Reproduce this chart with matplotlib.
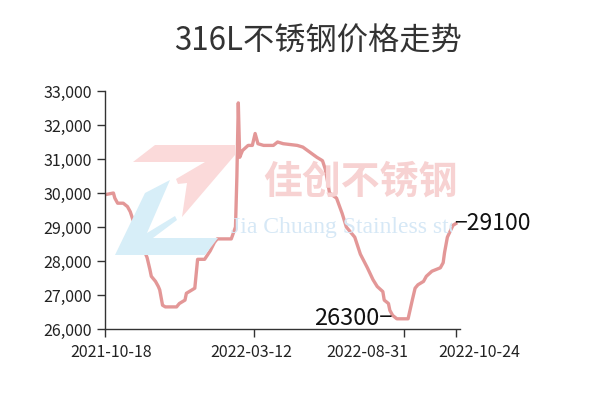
import matplotlib
matplotlib.use("Agg")
import matplotlib.pyplot as plt
import matplotlib.transforms as mtransforms
from matplotlib.patches import Polygon
from matplotlib.ticker import FuncFormatter

plt.rcParams['font.family'] = ['Noto Sans CJK SC', 'DejaVu Sans']

# trading-day index and price (yuan/ton)
days = [0, 6, 7, 9, 13, 16, 18, 20, 23, 25, 27, 30, 32, 33, 36, 38, 39, 41, 43,
        51, 53, 57, 58, 62, 64, 66, 71, 75, 78, 80, 90, 93, 94, 95, 96, 98, 102,
        105, 107, 109, 113, 120, 123, 127, 137, 141, 146, 151, 155, 157, 159,
        160, 165, 169, 172, 178, 180, 182, 187, 191, 194, 198, 199, 202, 203,
        205, 208, 216, 219, 221, 223, 227, 229, 233, 239, 241, 242, 244, 248, 250]
prices = [29950, 30000, 29850, 29700, 29700, 29600, 29450, 29200, 29000, 28700,
          28400, 28100, 27750, 27550, 27400, 27250, 27150, 26700, 26650,
          26650, 26750, 26850, 27050, 27150, 27200, 28050, 28050, 28300, 28550,
          28650, 28650, 29000, 30500, 32650, 31050, 31250, 31400,
          31400, 31750, 31450, 31400, 31400, 31500, 31450, 31400, 31350, 31200,
          31050, 30950, 30700, 30250,
          30000, 29850, 29400, 29000, 28700, 28450, 28200, 27800, 27450, 27250,
          27100, 26850, 26750, 26550,
          26400, 26300, 26300, 26850, 27200, 27300, 27400, 27550, 27700, 27800,
          27950, 28250, 28700, 29050, 29100]

tick_days = [0, 106, 213, 250]
tick_labels = ["2021-10-18", "2022-03-12", "2022-08-31", "2022-10-24"]
yticks = [26000, 27000, 28000, 29000, 30000, 31000, 32000, 33000]

fig = plt.figure(figsize=(6, 4), dpi=100)

# watermark logo (figure pixel coords, y from top)
def px(points):
    return [(x / 600, 1 - y / 400) for x, y in points]

pink = [(133, 162), (155, 145), (235, 145), (235, 155), (182, 217), (187, 183),
        (178, 184), (176, 179), (205, 162)]
blue = [(170, 180), (145, 193), (115, 255), (205, 255), (218, 238), (153, 238),
        (177, 220), (175, 216), (147, 233)]
fig.patches.append(Polygon(px(pink), closed=True, transform=fig.transFigure,
                           facecolor='#fbdada', edgecolor='none', zorder=0))
fig.patches.append(Polygon(px(blue), closed=True, transform=fig.transFigure,
                           facecolor='#d7eef8', edgecolor='none', zorder=0))
fig.text(360 / 600, 1 - 182 / 400, "佳创不锈钢", fontsize=28, color='#f7d2d2',
         fontweight='bold', ha='center', va='center', zorder=0)
wm = fig.text(231 / 600, 1 - 228 / 400, "Jia Chuang Stainless steel", fontsize=17,
              color='#d6e8f6', family='Liberation Serif', ha='left', va='center',
              zorder=0)
wm.set_clip_box(mtransforms.Bbox.from_extents(0, 0, 452, 400))
wm.set_clip_on(True)

ax = fig.add_axes([105 / 600, 1 - 329 / 400, 355 / 600, 238 / 400])
ax.patch.set_alpha(0)

ax.plot(days, prices, color='#e08c8c', lw=2.4, alpha=0.9, solid_joinstyle='round')

ax.set_xlim(0, 253)
ax.set_ylim(26000, 33000)
ax.set_yticks(yticks)
ax.yaxis.set_major_formatter(FuncFormatter(lambda v, p: f"{int(v):,}"))
ax.set_xticks(tick_days)
ax.set_xticklabels(tick_labels)

for s in ['top', 'right']:
    ax.spines[s].set_visible(False)
for s in ['left', 'bottom']:
    ax.spines[s].set_color('#333333')
    ax.spines[s].set_linewidth(1)
ax.tick_params(axis='both', length=6, width=1, color='#333333',
               labelsize=11.5, labelcolor='#222222')
ax.tick_params(axis='x', pad=5)

# nudge crowded date labels apart like the original
shifts = [6, -2, -37, 23]
for lbl, dx in zip(ax.get_xticklabels(), shifts):
    lbl.set_transform(lbl.get_transform() +
                      mtransforms.ScaledTranslation(dx / 100, 0, fig.dpi_scale_trans))

# min / last labels
imin = prices.index(min(prices))
ax.annotate(f"{prices[imin]}−", (days[imin], prices[imin]), xytext=(-3, 0),
            textcoords='offset points', ha='right', va='center', fontsize=17,
            color='#111111')
ax.annotate(f"−{prices[-1]}", (days[-1], prices[-1]), xytext=(-1, 0),
            textcoords='offset points', ha='left', va='center', fontsize=16.5,
            color='#111111', annotation_clip=False)

fig.text(318 / 600, 1 - 42 / 400, "316L不锈钢价格走势", fontsize=22.5,
         color='#333333', ha='center', va='center')

fig.savefig("out.png", dpi=100)
